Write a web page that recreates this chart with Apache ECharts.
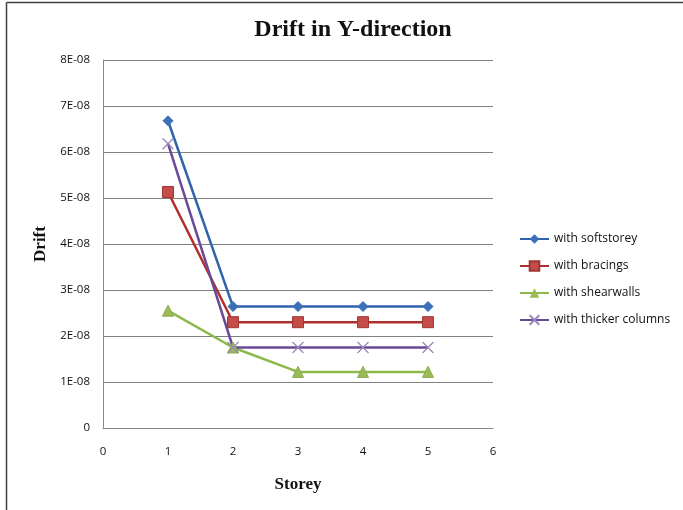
<!DOCTYPE html>
<html>
<head>
<meta charset="utf-8">
<script src="https://cdn.jsdelivr.net/npm/echarts@6/dist/echarts.min.js"></script>
<style>
  html, body { margin: 0; padding: 0; background: #fff; }
  #chart { width: 683px; height: 510px; }
</style>
</head>
<body>
<div id="chart"></div>
<script>
// Storey numbers (x values)
const storeys = [1, 2, 3, 4, 5];

// Drift values per configuration
const softstorey = [6.68e-8, 2.64e-8, 2.64e-8, 2.64e-8, 2.64e-8];
const bracings = [5.13e-8, 2.30e-8, 2.30e-8, 2.30e-8, 2.30e-8];
const shearwalls = [2.55e-8, 1.75e-8, 1.22e-8, 1.22e-8, 1.22e-8];
const thickerColumns = [6.18e-8, 1.75e-8, 1.75e-8, 1.75e-8, 1.75e-8];

const seriesNames = ['with softstorey', 'with bracings', 'with shearwalls', 'with thicker columns'];

const pairs = vals => storeys.map((s, i) => [s, vals[i]]);

const labelFont = '"Open Sans", "Noto Sans", sans-serif';
const serifFont = '"Liberation Serif", "DejaVu Serif", serif';

const chart = echarts.init(document.getElementById('chart'), null, { renderer: 'canvas' });

chart.setOption({
  animation: false,
  backgroundColor: '#ffffff',
  title: {
    text: 'Drift in Y-direction',
    left: 348,
    textAlign: 'center',
    top: 13,
    textStyle: { fontFamily: serifFont, fontSize: 24, fontWeight: 'bold', color: '#111' }
  },
  graphic: [
    { type: 'line', shape: { x1: 6.5, y1: 2.5, x2: 6.5, y2: 510 }, style: { stroke: '#404040', lineWidth: 1.5 } },
    { type: 'line', shape: { x1: 6.5, y1: 2.5, x2: 683, y2: 2.5 }, style: { stroke: '#404040', lineWidth: 1.5 } }
  ],
  grid: { left: 103, right: 190, top: 60, bottom: 82 },
  legend: {
    orient: 'vertical',
    left: 514,
    top: 228,
    itemWidth: 29,
    itemHeight: 12,
    itemGap: 15,
    textStyle: { fontFamily: labelFont, fontSize: 12, color: '#111' },
    data: seriesNames
  },
  xAxis: {
    type: 'value',
    min: 0, max: 6, interval: 1,
    name: 'Storey',
    nameLocation: 'middle',
    nameGap: 48,
    nameTextStyle: { fontFamily: serifFont, fontSize: 17, fontWeight: 'bold', color: '#111' },
    axisLine: { show: true, lineStyle: { color: '#888', width: 1 } },
    axisTick: { show: false },
    splitLine: { show: false },
    axisLabel: { fontFamily: labelFont, fontSize: 11.5, color: '#111', margin: 18 }
  },
  yAxis: {
    type: 'value',
    min: 0, max: 8e-8, interval: 1e-8,
    name: 'Drift',
    nameLocation: 'middle',
    nameGap: 52,
    nameTextStyle: { fontFamily: serifFont, fontSize: 17, fontWeight: 'bold', color: '#111' },
    axisLine: { show: true, lineStyle: { color: '#888', width: 1 } },
    axisTick: { show: false },
    splitLine: { show: true, lineStyle: { color: '#808080', width: 1 } },
    axisLabel: {
      fontFamily: labelFont, fontSize: 11.5, color: '#111', margin: 13,
      formatter: v => {
        const n = Math.round(v * 1e8);
        return n === 0 ? '0' : n + 'E-08';
      }
    }
  },
  series: [
    {
      name: seriesNames[0], type: 'line', data: pairs(softstorey),
      symbol: 'diamond', symbolSize: 10,
      lineStyle: { color: '#2f63ab', width: 2.5 },
      itemStyle: { color: '#3a70b8', borderColor: '#3a70b8' }
    },
    {
      name: seriesNames[1], type: 'line', data: pairs(bracings),
      symbol: 'rect', symbolSize: 11,
      lineStyle: { color: '#b12e2b', width: 2.5 },
      itemStyle: { color: '#c44d4a', borderColor: '#a23532', borderWidth: 1 }
    },
    {
      name: seriesNames[2], type: 'line', data: pairs(shearwalls),
      symbol: 'triangle', symbolSize: 11,
      lineStyle: { color: '#8db94a', width: 2.5 },
      itemStyle: { color: '#9bbb59', borderColor: '#8aaa4a' }
    },
    {
      name: seriesNames[3], type: 'line', data: pairs(thickerColumns),
      symbol: 'path://M0,0L10,10M10,0L0,10', symbolSize: 11,
      lineStyle: { color: '#6a4a96', width: 2.5 },
      itemStyle: { color: 'rgba(0,0,0,0)', borderColor: '#9a86bd', borderWidth: 1.2 }
    }
  ]
});
</script>
</body>
</html>
